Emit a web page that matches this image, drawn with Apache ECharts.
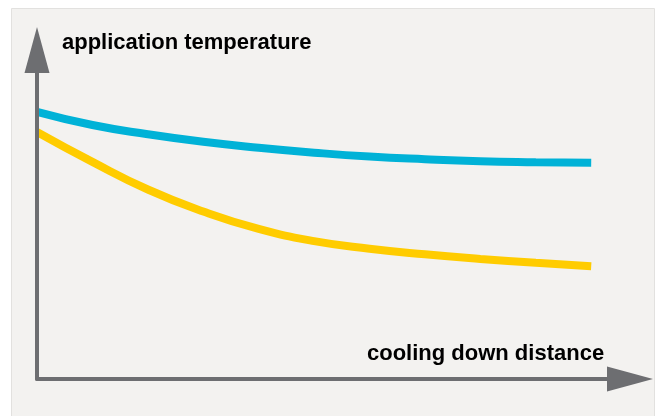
<!DOCTYPE html>
<html>
<head>
<meta charset="utf-8">
<script src="https://cdn.jsdelivr.net/npm/echarts@6/dist/echarts.min.js"></script>
<style>
  html, body { margin: 0; padding: 0; background: #ffffff; }
  #chart { width: 659px; height: 416px; }
</style>
</head>
<body>
<div id="chart"></div>
<script>
// distance along the cooling section (arbitrary units)
var distance = [0, 10, 20, 30, 40, 50, 60, 70, 80, 90, 100];
// upper (blue) curve, application temperature
var blueTemp = [81.2, 77.2, 74.4, 72.1, 70.3, 68.8, 67.6, 66.8, 66.2, 65.9, 65.7];
// lower (yellow) curve
var yellowTemp = [75.1, 66.0, 57.6, 50.9, 45.6, 41.9, 39.6, 37.9, 36.5, 35.3, 34.3];

var yLabel = "application temperature";
var xLabel = "cooling down distance";

var axisColor = "#6d6e71";

function pairs(xs, ys) {
  return xs.map(function (x, i) { return [x, ys[i]]; });
}

var chart = echarts.init(document.getElementById("chart"));
var option = {
  animation: false,
  backgroundColor: "#ffffff",
  grid: { left: 37, right: 29, top: 50, bottom: 37 },
  xAxis: {
    type: "value",
    min: 0,
    max: 107,
    z: 5,
    axisLine: {
      show: true,
      symbol: ["none", "triangle"],
      symbolSize: [25, 46],
      lineStyle: { color: axisColor, width: 4 }
    },
    axisTick: { show: false },
    axisLabel: { show: false },
    splitLine: { show: false }
  },
  yAxis: {
    type: "value",
    min: 0,
    max: 100,
    z: 5,
    axisLine: {
      show: true,
      symbol: ["none", "triangle"],
      symbolSize: [25, 46],
      lineStyle: { color: axisColor, width: 4 }
    },
    axisTick: { show: false },
    axisLabel: { show: false },
    splitLine: { show: false }
  },
  graphic: [
    {
      type: "rect",
      z: -10,
      silent: true,
      shape: { x: 11.5, y: 8.5, width: 643, height: 420 },
      style: { fill: "#f3f2f0", stroke: "#e2e1df", lineWidth: 1 }
    },
    {
      type: "text",
      z: 10,
      style: {
        x: 62, y: 43,
        text: yLabel,
        fill: "#000000",
        font: "bold 22px 'Liberation Sans', Arial, sans-serif",
        verticalAlign: "middle"
      }
    },
    {
      type: "text",
      z: 10,
      style: {
        x: 367, y: 354,
        text: xLabel,
        fill: "#000000",
        font: "bold 22px 'Liberation Sans', Arial, sans-serif",
        verticalAlign: "middle"
      }
    }
  ],
  series: [
    {
      type: "line",
      data: pairs(distance, blueTemp),
      smooth: 0.5,
      symbol: "none",
      lineStyle: { color: "#00b2d7", width: 8, cap: "butt" }
    },
    {
      type: "line",
      data: pairs(distance, yellowTemp),
      smooth: 0.5,
      symbol: "none",
      lineStyle: { color: "#ffcc00", width: 8, cap: "butt" }
    }
  ]
};
chart.setOption(option);
</script>
</body>
</html>
